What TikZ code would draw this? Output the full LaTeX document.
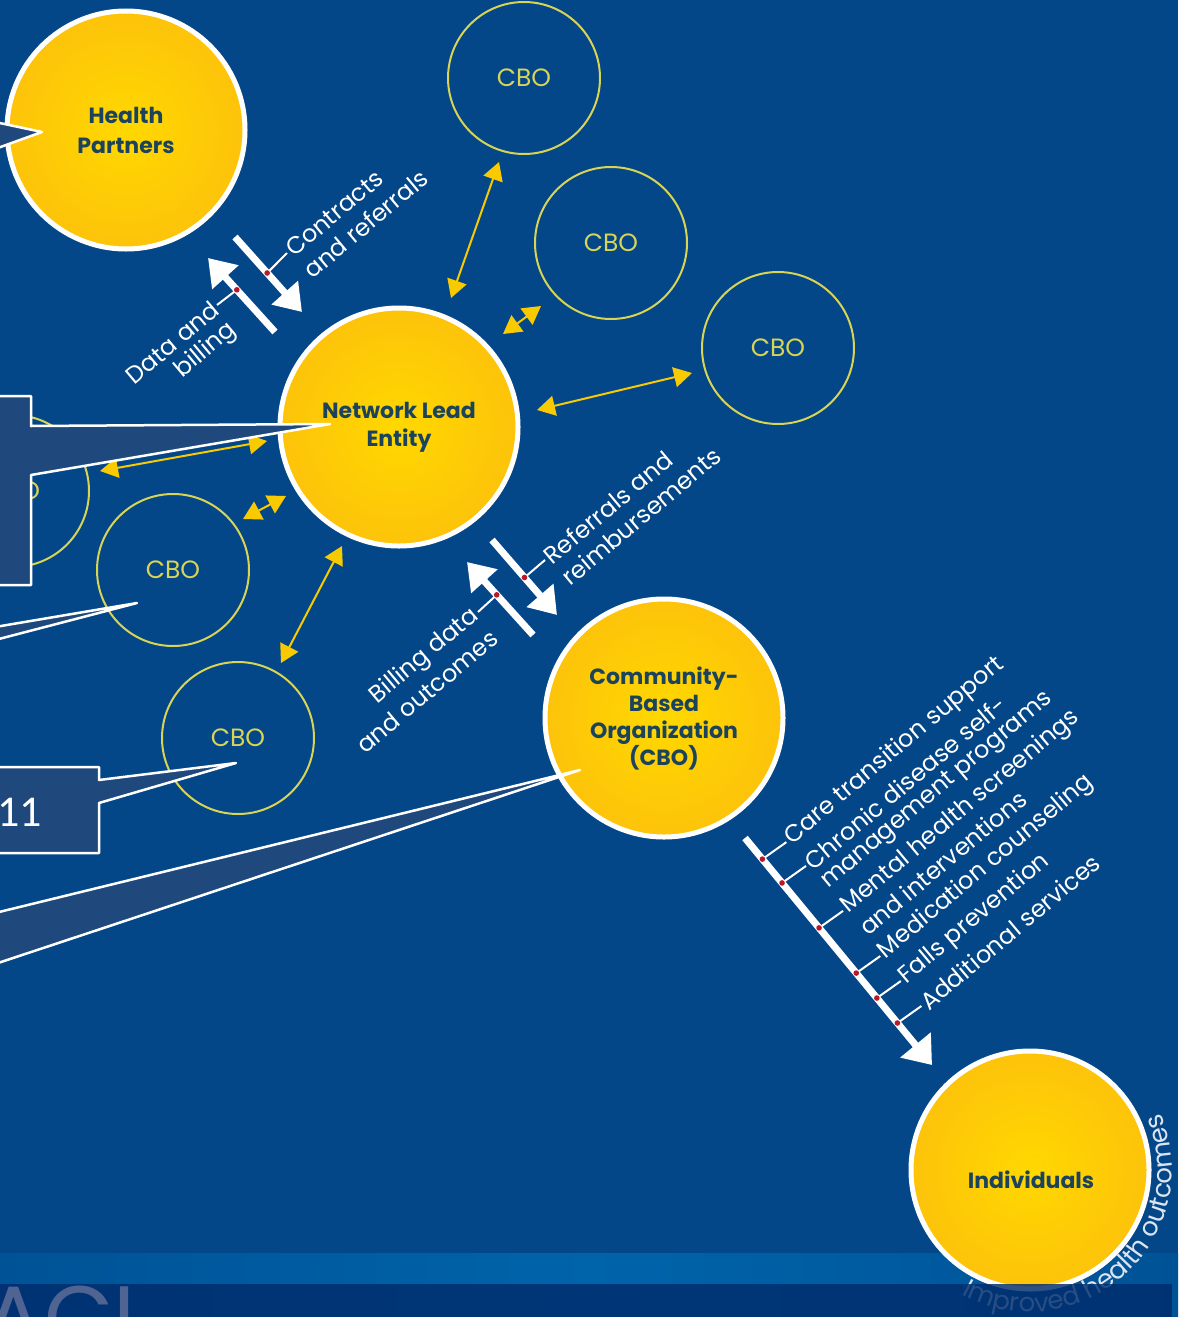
\documentclass[tikz,border=0pt]{standalone}
\usepackage{fontspec}
\setmainfont{Poppins}
\newfontfamily\boxfont{Carlito}
\usetikzlibrary{arrows.meta,decorations.text,calc}

\definecolor{bgblue}{RGB}{3,71,137}
\definecolor{bandblue}{RGB}{0,100,170}
\definecolor{bandside}{RGB}{0,82,150}
\definecolor{barnavy}{RGB}{0,44,108}
\definecolor{calloutfill}{RGB}{31,73,125}
\definecolor{ringyellow}{RGB}{218,212,84}
\definecolor{arrowyellow}{RGB}{250,202,0}
\definecolor{labelink}{RGB}{27,68,92}
\definecolor{dotred}{RGB}{185,25,40}
\definecolor{aclgrey}{RGB}{80,100,148}
\definecolor{arcwhite}{RGB}{220,228,240}
\definecolor{sunA}{RGB}{255,216,0}
\definecolor{sunB}{RGB}{253,196,10}
\definecolor{sunC}{RGB}{242,160,26}
\pgfdeclareradialshading{sunglow}{\pgfpoint{0bp}{0bp}}{color(0bp)=(sunA); color(24bp)=(sunB); color(48bp)=(sunC); color(50bp)=(sunC)}

\tikzset{
  sunnode/.style={circle, draw=white, line width=2.5pt, shade, shading=sunglow,
    minimum size=119pt, inner sep=0pt, align=center, text=labelink},
  ringnode/.style={circle, draw=ringyellow, line width=1pt, minimum size=76pt,
    inner sep=0pt, text=ringyellow, font=\fontsize{12.5}{15}\selectfont},
  linkarrow/.style={draw=arrowyellow, line width=1pt,
    {Triangle[width=10pt,length=9pt]}-{Triangle[width=10pt,length=9pt]}},
  flowarrow/.style={draw=white, line width=3.5pt, -{Triangle[width=17pt,length=13pt]}},
  leaderline/.style={draw=white, line width=1pt},
  reddot/.style={circle, fill=dotred, inner sep=0pt, minimum size=2.8pt},
  flowlabel/.style={text=white, inner sep=1pt, font=\fontsize{12}{14}\selectfont},
  calloutshape/.style={fill=calloutfill, draw=white, line width=1.25pt, line join=round},
}

\begin{document}
\begin{tikzpicture}[x=0.5pt, y=0.5pt]
\useasboundingbox (0,0) rectangle (1178,-1317);
\clip (0,0) rectangle (1178,-1317);

% backdrop and lower light band
\fill[bgblue] (0,0) rectangle (1178,-1317);
\shade[left color=bandside, right color=bandside, middle color=bandblue]
  (0,-1253) rectangle (1178,-1317);

% community-based organisations around the lead entity
\node[ringnode] (cboA) at (524,-78) {CBO};
\node[ringnode] (cboB) at (611,-243) {CBO};
\node[ringnode] (cboC) at (778,-348) {CBO};
\node[ringnode] (cboD) at (13,-491) {CBO};
\node[ringnode] (cboE) at (173,-570) {CBO};
\node[ringnode] (cboF) at (238,-738) {CBO};

% main actors
\node[sunnode, font=\bfseries\fontsize{11}{15}\selectfont] (hp) at (126,-130) {Health\\Partners};
\node[sunnode, font=\bfseries\fontsize{11}{14}\selectfont] (nle) at (399,-427) {Network Lead\\Entity};
\node[sunnode, font=\bfseries\fontsize{11}{13.5}\selectfont] (cbo) at (664,-718) {Community-\\Based\\Organization\\(CBO)};
\node[sunnode] (ind) at (1030,-1170) {};
\node[text=labelink, font=\bfseries\fontsize{11}{14}\selectfont] (indtext) at (1031,-1180) {Individuals};

% two-way links between the lead entity and its CBOs
\coordinate (y1a) at (451,-298); \coordinate (y1b) at (499,-162);
\coordinate (y2a) at (503,-334); \coordinate (y2b) at (541,-306);
\coordinate (y3a) at (537,-410); \coordinate (y3b) at (692,-373);
\coordinate (y4a) at (100,-471); \coordinate (y4b) at (267,-441);
\coordinate (y5a) at (243,-519); \coordinate (y5b) at (286,-496);
\coordinate (y6a) at (281,-663); \coordinate (y6b) at (342,-546);
\draw[linkarrow] (y1a) -- (y1b);
\draw[linkarrow] (y2a) -- (y2b);
\draw[linkarrow] (y3a) -- (y3b);
\draw[linkarrow] (y4a) -- (y4b);
\draw[linkarrow] (y5a) -- (y5b);
\draw[linkarrow] (y6a) -- (y6b);

% flows between health partners and the lead entity
\coordinate (u1s) at (275,-332); \coordinate (u1e) at (208,-258);
\coordinate (d1s) at (235,-237); \coordinate (d1e) at (302,-312);
\draw[flowarrow] (u1s) -- (u1e);
\draw[flowarrow] (d1s) -- (d1e);
\coordinate (k1a) at ($(u1s)!0.57!(u1e)$);
\coordinate (k1b) at ($(d1s)!0.48!(d1e)$);
\coordinate (t1a) at (217,-305);
\coordinate (t1b) at (287,-253);
\draw[leaderline] (k1a) -- (t1a);
\draw[leaderline] (k1b) -- (t1b);
\node[reddot] (r1a) at (k1a) {};
\node[reddot] (r1b) at (k1b) {};
\begin{scope}[shift={(t1a)}, rotate=40, transform shape]
  \node[flowlabel, anchor=east] (l1a) at (0,0) {Data and};
  \node[flowlabel, anchor=east] (l1b) at (0,-28) {billing};
\end{scope}
\begin{scope}[shift={(t1b)}, rotate=40, transform shape]
  \node[flowlabel, anchor=west] (l1c) at (0,0) {Contracts};
  \node[flowlabel, anchor=west] (l1d) at (0,-28) {and referrals};
\end{scope}

% flows between the lead entity and the CBO
\coordinate (u2s) at (533,-635); \coordinate (u2e) at (467,-562);
\coordinate (d2s) at (492,-540); \coordinate (d2e) at (557,-615);
\draw[flowarrow] (u2s) -- (u2e);
\draw[flowarrow] (d2s) -- (d2e);
\coordinate (k2a) at ($(u2s)!0.55!(u2e)$);
\coordinate (k2b) at ($(d2s)!0.5!(d2e)$);
\coordinate (t2a) at (478,-612);
\coordinate (t2b) at (545,-560);
\draw[leaderline] (k2a) -- (t2a);
\draw[leaderline] (k2b) -- (t2b);
\node[reddot] (r2a) at (k2a) {};
\node[reddot] (r2b) at (k2b) {};
\begin{scope}[shift={(t2a)}, rotate=40, transform shape]
  \node[flowlabel, anchor=east] (l2a) at (0,0) {Billing data};
  \node[flowlabel, anchor=east] (l2b) at (0,-28) {and outcomes};
\end{scope}
\begin{scope}[shift={(t2b)}, rotate=40, transform shape]
  \node[flowlabel, anchor=west] (l2c) at (0,0) {Referrals and};
  \node[flowlabel, anchor=west] (l2d) at (0,-28) {reimbursements};
\end{scope}

% services delivered by the CBO to individuals
\coordinate (ls) at (745,-838); \coordinate (le) at (932,-1065);
\draw[flowarrow, -{Triangle[width=19pt,length=13pt]}] (ls) -- (le);
\foreach \t/\n in {0.093/a, 0.198/b, 0.396/c, 0.595/d, 0.705/e, 0.815/f} {
  \coordinate (k3\n) at ($(ls)!\t!(le)$);
  \coordinate (t3\n) at ($(k3\n)+(24,17)$);
  \draw[leaderline] (k3\n) -- (t3\n);
  \node[reddot] (r3\n) at (k3\n) {};
}
\begin{scope}[shift={(t3a)}, rotate=40, transform shape]
  \node[flowlabel, anchor=west] (s1) at (0,0) {Care transition support};
\end{scope}
\begin{scope}[shift={(t3b)}, rotate=40, transform shape]
  \node[flowlabel, anchor=west] (s2a) at (0,0) {Chronic disease self-};
  \node[flowlabel, anchor=west] (s2b) at (0,-27) {management programs};
\end{scope}
\begin{scope}[shift={(t3c)}, rotate=40, transform shape]
  \node[flowlabel, anchor=west] (s3a) at (0,0) {Mental health screenings};
  \node[flowlabel, anchor=west] (s3b) at (0,-27) {and interventions};
\end{scope}
\begin{scope}[shift={(t3d)}, rotate=40, transform shape]
  \node[flowlabel, anchor=west] (s4) at (0,0) {Medication counseling};
\end{scope}
\begin{scope}[shift={(t3e)}, rotate=40, transform shape]
  \node[flowlabel, anchor=west] (s5) at (0,0) {Falls prevention};
\end{scope}
\begin{scope}[shift={(t3f)}, rotate=40, transform shape]
  \node[flowlabel, anchor=west] (s6) at (0,0) {Additional services};
\end{scope}

% outcome text wrapped round the individuals
\path[decorate, decoration={text along path, text align=left,
    text={|\color{arcwhite}\fontsize{13}{15}\selectfont|Improved health outcomes}}]
  ($(ind)+(-119:142)$) arc[start angle=-119, end angle=45, radius=142];

% annotation callouts
\draw[calloutshape] (-5,-122) -- (42,-132) -- (-5,-149) -- cycle;
\draw[calloutshape] (-5,-396) -- (31,-396) -- (31,-426) -- (330,-424) -- (31,-475)
  -- (31,-585) -- (-5,-585) -- cycle;
\draw[calloutshape] (-5,-627) -- (137,-603) -- (-5,-640) -- cycle;
\draw[calloutshape] (-5,-767) -- (99,-767) -- (99,-780) -- (236,-763) -- (99,-803)
  -- (99,-853) -- (-5,-853) -- cycle;
\node[anchor=base west, inner sep=0pt, text=white, font=\boxfont\fontsize{22}{24}\selectfont]
  (num) at (-3,-826) {11};
\draw[calloutshape] (-5,-913) -- (580,-770) -- (-5,-964) -- cycle;

% footer bar
\fill[barnavy, opacity=0.82] (0,-1284) rectangle (1172,-1317);
\begin{scope}
  \clip (0,-1284) rectangle (1172,-1317);
  \node[anchor=north west, inner sep=0pt, text=aclgrey, font=\fontsize{45}{45}\selectfont]
    (acl) at (-17,-1286) {ACL};
\end{scope}
\end{tikzpicture}
\end{document}
